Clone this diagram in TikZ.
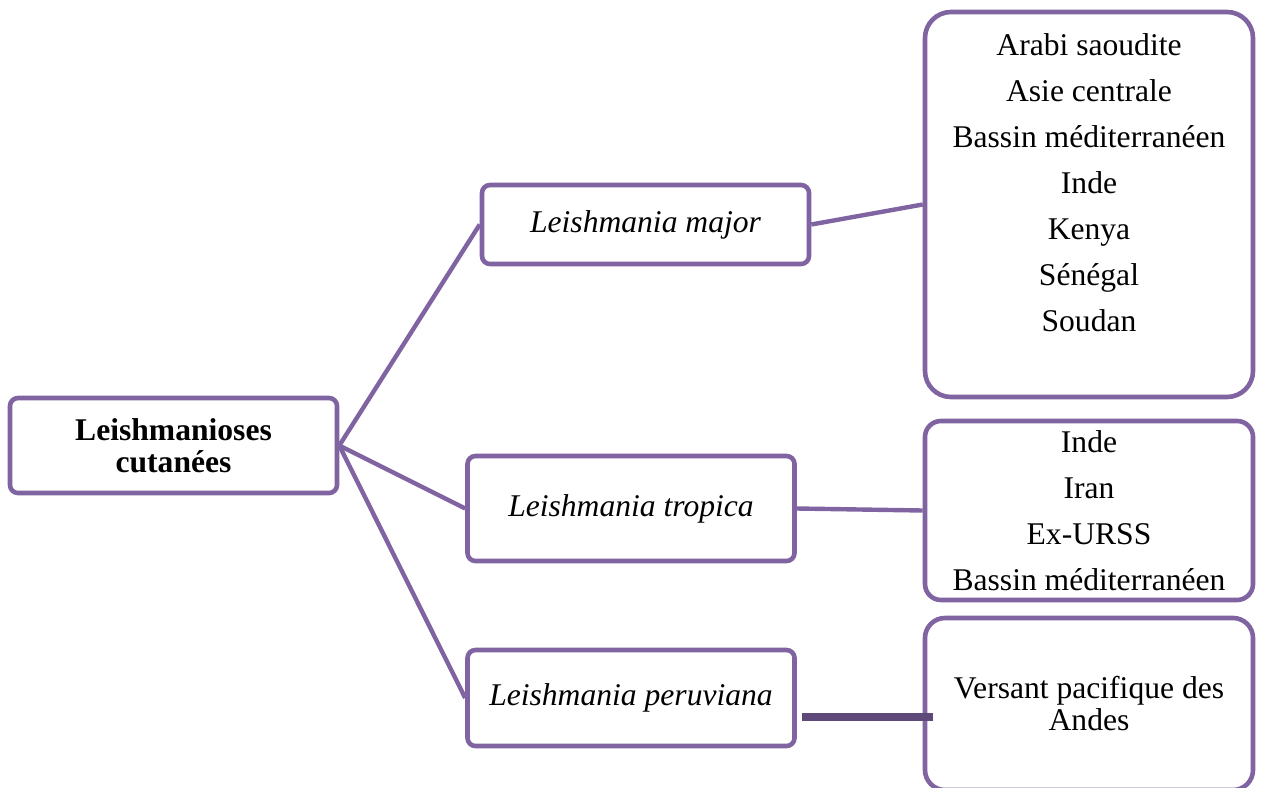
\documentclass[tikz,border=0pt]{standalone}
\usepackage{fontspec}
\setmainfont{Liberation Serif}
\usetikzlibrary{positioning}
\definecolor{cLine}{RGB}{128,100,162}
\definecolor{cDark}{RGB}{95,73,122}

\begin{document}
\begin{tikzpicture}[x=0.5pt,y=-0.5pt,
  box/.style={draw=cLine,line width=2.3pt,rounded corners=4pt,fill=white,align=center,inner sep=0pt,font=\fontsize{15.8}{16}\selectfont},
  spec/.style={box,minimum width=163.5pt,font=\fontsize{15.8}{16}\selectfont\itshape},
  place/.style={box,minimum width=164pt,rounded corners=10pt},
  list/.style={align=center,inner sep=0pt,font=\fontsize{15.8}{23}\selectfont},
  link/.style={draw=cLine,line width=2.2pt}]
  \path[use as bounding box,clip] (0,0) rectangle (1262,787);
  \fill[white] (0,0) rectangle (1262,787);
  \node[box,minimum width=163.5pt,minimum height=47.5pt,font=\fontsize{15.8}{16}\selectfont\bfseries] (root) at (173.5,445.5) {Leishmanioses\\cutanées};
  \node[spec,minimum height=39.5pt] (major) at (645.5,224.5) {\raisebox{-1.5pt}{Leishmania major}};
  \node[spec,minimum height=52.5pt] (tropica) at (631,508.5) {\raisebox{-1.5pt}{Leishmania tropica}};
  \node[spec,minimum height=48pt] (peruviana) at (631,698) {\raisebox{-1.5pt}{Leishmania peruviana}};
  \node[place,minimum height=192.5pt,rounded corners=13pt] (zone1) at (1089,204.5) {};
  \node[list,below=11.5pt of zone1.north] (list1) {Arabi saoudite\\Asie centrale\\Bassin méditerranéen\\Inde\\Kenya\\Sénégal\\Soudan};
  \node[place,minimum height=89.5pt,rounded corners=8pt,font=\fontsize{15.8}{23}\selectfont] (zone2) at (1089,510.5) {Inde\\Iran\\Ex-URSS\\Bassin méditerranéen};
  \node[place,minimum height=86pt] (zone3) at (1089,704) {Versant pacifique des\\Andes};
  \draw[link] (root.east) -- (major.west);
  \draw[link] (root.east) -- (tropica.west);
  \draw[link] (root.east) -- (peruviana.west);
  \draw[link] (major.east) -- (zone1.west);
  \draw[link] (tropica.east) -- (zone2.west);
  \draw[cDark,line width=4pt] ([xshift=2.5pt,yshift=-9.5pt]peruviana.east) -- ([xshift=5pt,yshift=-6.5pt]zone3.west);
\end{tikzpicture}
\end{document}
